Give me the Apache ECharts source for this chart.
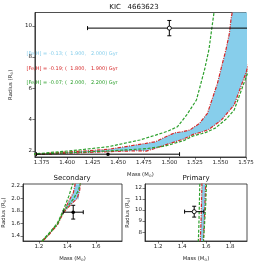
<!DOCTYPE html>
<html>
<head>
<meta charset="utf-8">
<script src="https://cdn.jsdelivr.net/npm/echarts@6/dist/echarts.min.js"></script>
<style>html,body{margin:0;padding:0;background:#fff}#c{width:258px;height:263px}</style>
</head>
<body>
<div id="c"></div>
<script>
// ---- Data (mass [Msun], radius [Rsun]) ----
const greenOld = [[1.20,1.27],[1.27,1.44],[1.331,1.61],[1.3685,1.80],[1.379,1.86],[1.41,2.04],[1.4405,2.26],[1.4712,2.69],[1.4866,3.0],[1.4988,3.26],[1.508,3.54],[1.517,4.29],[1.5265,5.25],[1.5296,6.0],[1.5345,7.2],[1.5388,8.5],[1.5419,10.0],[1.5437,10.85],[1.547,12.6]];
const redOld = [[1.20,1.26],[1.27,1.43],[1.331,1.60],[1.3685,1.77],[1.41,1.96],[1.4405,2.09],[1.477,2.47],[1.4866,2.58],[1.495,2.85],[1.505,3.14],[1.5127,3.22],[1.52,3.32],[1.5296,3.76],[1.5373,4.4],[1.5419,5.3],[1.547,6.3],[1.5511,7.38],[1.5555,8.5],[1.5588,9.53],[1.5603,10.4],[1.5615,10.85],[1.565,12.6]];
const redYoung = [[1.20,1.25],[1.27,1.42],[1.331,1.58],[1.3685,1.76],[1.41,1.87],[1.4405,1.94],[1.468,2.00],[1.4773,1.98],[1.485,2.13],[1.4958,2.37],[1.514,2.75],[1.5234,3.05],[1.531,3.18],[1.539,3.38],[1.551,3.97],[1.5634,4.93],[1.5748,6.96],[1.582,8.5],[1.588,10.0],[1.593,11.5],[1.596,12.6]];
const greenYoung = [[1.20,1.25],[1.27,1.43],[1.331,1.59],[1.3685,1.78],[1.41,1.90],[1.4405,1.99],[1.477,2.13],[1.4958,2.30],[1.514,2.65],[1.5234,2.95],[1.535,3.15],[1.545,3.45],[1.556,4.05],[1.5634,4.6],[1.5741,6.53],[1.585,8.5],[1.596,10.5],[1.603,12.6]];
const bandUpper = redOld;
const bandLower = redYoung;

// stars: [secondary, primary]
const starMass = [1.44, 1.50];
const starMassErr = [0.07, 0.08];
const starRadius = [1.78, 9.85];
const starRadiusErr = [0.11, 0.49];

const mainXTicks = [1.375,1.400,1.425,1.450,1.475,1.500,1.525,1.550,1.575];
const mainYTicks = [2,4,6,8,10];
const secXTicks = [1.2,1.4,1.6];
const secYTicks = [1.4,1.6,1.8,2.0,2.2];
const priXTicks = [1.2,1.4,1.6,1.8];
const priYTicks = [8,9,10,11,12];

const titleText = 'KIC   4663623';
const legendTexts = ['[Fe/H] = -0.13; (  1.900,   2.000) Gyr','[Fe/H] = -0.19; (  1.800,   1.900) Gyr','[Fe/H] = -0.07; (  2.000,   2.200) Gyr'];

const BLUE = '#87ceeb', RED = '#d62728', GREEN = '#2ca02c';
const FONT = 'DejaVu Sans';

const chart = echarts.init(document.getElementById('c'), null, {renderer:'canvas'});

const rich = {s:{fontSize:3.6, fontFamily:FONT, color:'#222', padding:[3,0,0,0]}, t:{fontSize:5.3, fontFamily:FONT, color:'#222'}};
function xAx(gi, min, max, ticks, dec){
  return {type:'value', gridIndex:gi, min, max,
    axisLine:{show:true, onZero:false, lineStyle:{color:'#222', width:0.8}},
    axisTick:{show:true, customValues:ticks, length:2.5, lineStyle:{color:'#222', width:0.6}},
    axisLabel:{customValues:ticks, formatter:v=>v.toFixed(dec), fontSize:5.5, color:'#222', margin:3, fontFamily:FONT},
    splitLine:{show:false},
    name:'{t|Mass (M}{s|⊙}{t|)}', nameLocation:'middle', nameGap:14,
    nameTextStyle:{rich}};
}
function yAx(gi, min, max, ticks, dec, gap){
  return {type:'value', gridIndex:gi, min, max,
    axisLine:{show:true, onZero:false, lineStyle:{color:'#222', width:0.8}},
    axisTick:{show:true, customValues:ticks, length:2.5, lineStyle:{color:'#222', width:0.6}},
    axisLabel:{customValues:ticks, formatter:v=>v.toFixed(dec), fontSize:5.5, color:'#222', margin:3, fontFamily:FONT},
    splitLine:{show:false},
    name:'{t|Radius (R}{s|⊙}{t|)}', nameLocation:'middle', nameGap:gap, nameRotate:90,
    nameTextStyle:{rich}};
}

const series = [];
for (let gi = 0; gi < 3; gi++) {
  series.push({type:'custom', xAxisIndex:gi, yAxisIndex:gi, clip:true, silent:true, z:1,
    data:[bandUpper[0]],
    renderItem:(params, api) => {
      if (params.dataIndex !== 0) return null;
      const poly = bandUpper.concat(bandLower.slice().reverse());
      return {type:'polygon', shape:{points:poly.map(p=>api.coord(p))}, style:{fill:BLUE, stroke:null}};
    }});
  const lines = [
    [redOld, RED, [3.5,1.2,1,1.2]],
    [redYoung, RED, [3.5,1.2,1,1.2]],
    [greenOld, GREEN, [3,1.6]],
    [greenYoung, GREEN, [3,1.6]]
  ];
  lines.forEach(([d,c,t]) => series.push({type:'line', xAxisIndex:gi, yAxisIndex:gi, data:d, showSymbol:false, symbol:'none', clip:true, silent:true, z:2,
    lineStyle:{color:c, width:1.2, type:t}}));
  // error bars
  const which = gi === 0 ? [0,1] : (gi === 1 ? [0] : [1]);
  series.push({type:'custom', xAxisIndex:gi, yAxisIndex:gi, clip:true, silent:true, z:5,
    data: which.map(i => [starMass[i], starRadius[i], starMassErr[i], starRadiusErr[i], i]),
    encode:{x:0, y:1},
    renderItem:(params, api) => {
      const m = api.value(0), r = api.value(1), me = api.value(2), re = api.value(3), idx = api.value(4);
      const c = api.coord([m, r]);
      const l = api.coord([m-me, r]), rr = api.coord([m+me, r]);
      const t = api.coord([m, r+re]), b = api.coord([m, r-re]);
      const cap = 2;
      const st = {stroke:'#000', lineWidth:1};
      const ch = [
        {type:'line', shape:{x1:l[0], y1:l[1], x2:rr[0], y2:rr[1]}, style:st},
        {type:'line', shape:{x1:l[0], y1:l[1]-cap, x2:l[0], y2:l[1]+cap}, style:st},
        {type:'line', shape:{x1:rr[0], y1:rr[1]-cap, x2:rr[0], y2:rr[1]+cap}, style:st}
      ];
      const showY = !(gi === 0 && idx === 0);
      if (showY) {
        ch.push({type:'line', shape:{x1:t[0], y1:t[1], x2:b[0], y2:b[1]}, style:st});
        ch.push({type:'line', shape:{x1:t[0]-cap, y1:t[1], x2:t[0]+cap, y2:t[1]}, style:st});
        ch.push({type:'line', shape:{x1:b[0]-cap, y1:b[1], x2:b[0]+cap, y2:b[1]}, style:st});
      }
      if (idx === 0) {
        ch.push({type:'rect', shape:{x:c[0]-1.8, y:c[1]-1.8, width:3.6, height:3.6, r:1.8}, style:{fill:'#000'}});
      } else {
        ch.push({type:'circle', shape:{cx:c[0], cy:c[1], r:2}, style:{fill:'#fff', stroke:'#000', lineWidth:0.9}});
      }
      return {type:'group', children:ch};
    }});
}

chart.setOption({
  animation:false,
  backgroundColor:'#fff',
  grid:[
    {left:22, top:12.5, width:224, height:144.5, show:true, borderColor:'#222', borderWidth:0.8},
    {left:21.5, top:184, width:100.5, height:59, show:true, borderColor:'#222', borderWidth:0.8},
    {left:145, top:184, width:102, height:59, show:true, borderColor:'#222', borderWidth:0.8}
  ],
  xAxis:[xAx(0,1.3685,1.575,mainXTicks,3), xAx(1,1.09,1.78,secXTicks,1), xAx(2,1.09,1.94,priXTicks,1)],
  yAxis:[yAx(0,1.6,10.85,mainYTicks,0,15), yAx(1,1.32,2.23,secYTicks,1,16), yAx(2,7.2,12.35,priYTicks,0,13)],
  series,
  graphic:[
    {type:'text', x:134, y:7, style:{text:titleText, fontSize:7, fontFamily:FONT, fill:'#111', align:'center', verticalAlign:'middle'}},
    {type:'text', x:26.5, y:54, style:{text:legendTexts[0], fontSize:5, fontFamily:FONT, fill:BLUE, align:'left', verticalAlign:'middle'}},
    {type:'text', x:26.5, y:69, style:{text:legendTexts[1], fontSize:5, fontFamily:FONT, fill:RED, align:'left', verticalAlign:'middle'}},
    {type:'text', x:26.5, y:82.3, style:{text:legendTexts[2], fontSize:5, fontFamily:FONT, fill:GREEN, align:'left', verticalAlign:'middle'}},
    {type:'text', x:72, y:178.5, style:{text:'Secondary', fontSize:7, fontFamily:FONT, fill:'#111', align:'center', verticalAlign:'middle'}},
    {type:'text', x:196, y:178.5, style:{text:'Primary', fontSize:7, fontFamily:FONT, fill:'#111', align:'center', verticalAlign:'middle'}}
  ]
});
</script>
</body>
</html>
